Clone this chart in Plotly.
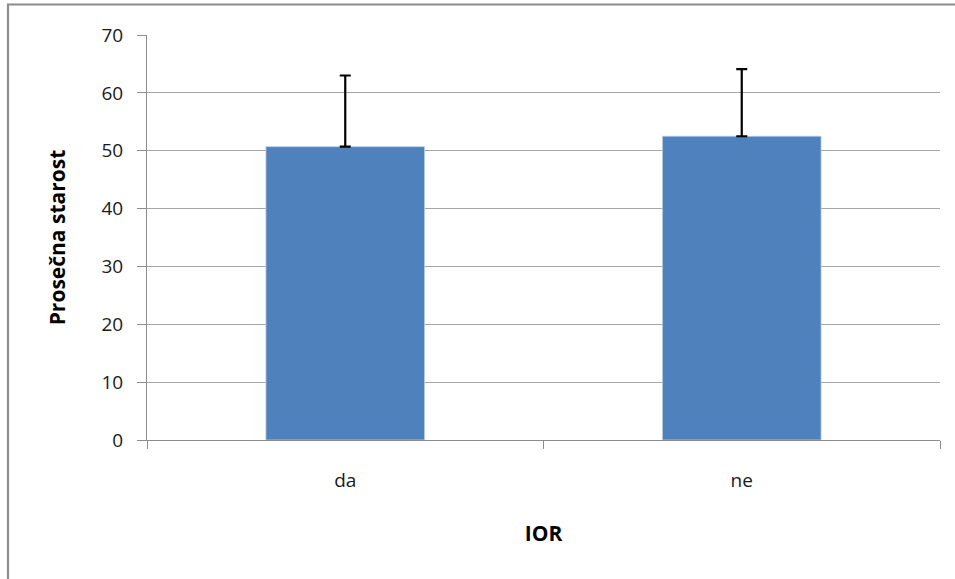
import plotly.graph_objects as go

categories = ["da", "ne"]
means = [50.7, 52.5]
errors_plus = [12.3, 11.6]
errors_minus = [0, 0]
y_ticks = [0, 10, 20, 30, 40, 50, 60, 70]

W, H = 955, 579
L, T = 147, 35
R = W - 940
B = H - 440
pw, ph = W - L - R, H - T - B

fig = go.Figure()
fig.add_trace(go.Bar(
    x=categories, y=means,
    marker=dict(color="#4F81BD", line=dict(color="#B9CDE5", width=0.8)),
    error_y=dict(type="data", symmetric=False, array=errors_plus, arrayminus=errors_minus,
                 color="black", thickness=2.2, width=5.5),
    width=0.4,
))

font = "Open Sans"
fs = 19
tfs = 21
fig.update_layout(
    width=W, height=H,
    margin=dict(l=L, r=R, t=T, b=B),
    paper_bgcolor="white", plot_bgcolor="white",
    showlegend=False,
    font=dict(family=font, size=fs, color="black"),
    xaxis=dict(
        showline=True, linecolor="#8c8c8c", linewidth=1,
        ticks="outside", ticklen=8, tickcolor="#8c8c8c", tickson="boundaries",
        tickfont=dict(size=fs, family=font, color="#1a1a1a"),
        ticklabelstandoff=23,
        title=dict(text="<b>IOR</b>", font=dict(size=tfs, family=font), standoff=34),
        showgrid=False,
    ),
    yaxis=dict(
        range=[0, 70], tickvals=y_ticks,
        showline=True, linecolor="#8c8c8c", linewidth=1,
        ticks="outside", ticklen=9, tickcolor="#8c8c8c",
        showgrid=True, gridcolor="#a6a6a6", gridwidth=1,
        zeroline=False,
        tickfont=dict(size=fs, family=font, color="#1a1a1a"),
        ticklabelstandoff=10,
        title=dict(text="<b>Prosečna starost</b>", font=dict(size=tfs, family=font), standoff=30),
    ),
)

# outer chart border (gray frame, partly cut by the image edge)
fig.add_shape(type="rect", xref="paper", yref="paper",
              x0=(8 - L) / pw, x1=(W + 20 - L) / pw,
              y0=-(B + 20) / ph, y1=(H - B - 4.5) / ph,
              line=dict(color="#8c8c8c", width=2.2), fillcolor="rgba(0,0,0,0)", layer="below")

fig.write_html("out.html", config={"displayModeBar": False},
               post_script="document.body.style.margin='0';document.body.style.overflow='hidden';")
